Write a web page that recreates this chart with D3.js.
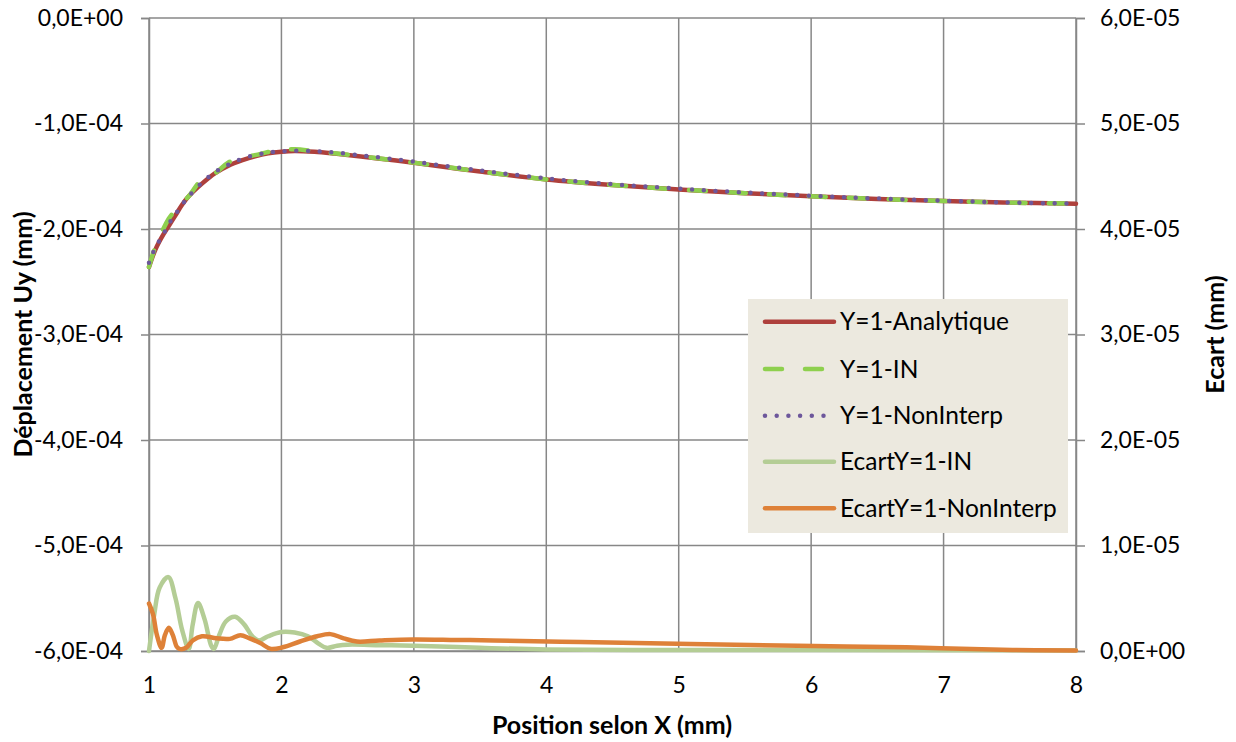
<!DOCTYPE html>
<html><head><meta charset="utf-8">
<script src="https://cdn.jsdelivr.net/npm/d3@7"></script>
<style>
body{margin:0;background:#fff;}
text{font-family:Lato,"Open Sans",sans-serif;fill:#000;}
</style></head>
<body>
<svg id="c" width="1236" height="742"></svg>
<script>
// ---- data ----
const xTicks = [1,2,3,4,5,6,7,8];
const yLeftTicks = [0,-1e-4,-2e-4,-3e-4,-4e-4,-5e-4,-6e-4];
const yLeftLabels = ["0,0E+00","-1,0E-04","-2,0E-04","-3,0E-04","-4,0E-04","-5,0E-04","-6,0E-04"];
const yRightTicks = [6e-5,5e-5,4e-5,3e-5,2e-5,1e-5,0];
const yRightLabels = ["6,0E-05","5,0E-05","4,0E-05","3,0E-05","2,0E-05","1,0E-05","0,0E+00"];

const seriesNames = ["Y=1-Analytique","Y=1-IN","Y=1-NonInterp","EcartY=1-IN","EcartY=1-NonInterp"];

const xMain = [1,1.05,1.1,1.15,1.2,1.25,1.3,1.4,1.5,1.6,1.7,1.8,1.9,2.0,2.1,2.25,2.4,2.6,2.8,3.0,3.25,3.5,4.0,4.5,5.0,5.5,6.0,6.5,7.0,7.5,8.0];
const yAnalytique = [-2.36,-2.19,-2.07,-1.97,-1.87,-1.77,-1.69,-1.57,-1.47,-1.40,-1.35,-1.31,-1.282,-1.267,-1.26,-1.268,-1.285,-1.312,-1.342,-1.372,-1.415,-1.455,-1.53,-1.583,-1.625,-1.66,-1.69,-1.715,-1.735,-1.75,-1.76].map(v=>v*1e-4);
const yIN = [-2.36,-2.16,-2.02,-1.90,-1.82,-1.75,-1.69,-1.53,-1.47,-1.37,-1.32,-1.30,-1.27,-1.25,-1.245,-1.262,-1.283,-1.311,-1.341,-1.371,-1.414,-1.455,-1.53,-1.583,-1.625,-1.66,-1.69,-1.715,-1.735,-1.75,-1.76].map(v=>v*1e-4);
const yNonInterp = [-2.32,-2.17,-2.07,-1.95,-1.86,-1.77,-1.69,-1.56,-1.46,-1.39,-1.335,-1.30,-1.275,-1.264,-1.258,-1.262,-1.274,-1.302,-1.331,-1.361,-1.405,-1.445,-1.521,-1.576,-1.618,-1.654,-1.685,-1.711,-1.732,-1.749,-1.76].map(v=>v*1e-4);

const xEcartIN = [1.0,1.04,1.08,1.146,1.2,1.25,1.30,1.33,1.37,1.42,1.47,1.49,1.53,1.58,1.65,1.72,1.78,1.83,1.9,2.0,2.1,2.2,2.28,2.34,2.42,2.5,2.75,3.0,3.5,4.0,5.0,6.0,7.0,8.0];
const yEcartIN = [0.0,0.35,0.6,0.70,0.5,0.2,0.02,0.25,0.455,0.3,0.05,0.02,0.15,0.28,0.325,0.25,0.14,0.10,0.14,0.18,0.175,0.14,0.07,0.03,0.05,0.06,0.055,0.05,0.03,0.015,0.01,0.01,0.008,0.005].map(v=>v*1e-5);

const xEcartNI = [1.0,1.03,1.06,1.095,1.12,1.15,1.18,1.21,1.23,1.28,1.33,1.40,1.51,1.61,1.69,1.76,1.84,1.92,2.01,2.14,2.27,2.37,2.47,2.57,2.74,2.99,3.32,3.6,4.26,5.09,5.9,6.72,7.52,8.0];
const yEcartNI = [0.45,0.35,0.15,0.03,0.15,0.22,0.15,0.04,0.02,0.03,0.10,0.14,0.12,0.115,0.15,0.12,0.075,0.02,0.035,0.09,0.14,0.16,0.12,0.09,0.10,0.11,0.105,0.10,0.085,0.066,0.05,0.035,0.01,0.005].map(v=>v*1e-5);

// ---- chart ----
const svg = d3.select("#c");
const L=149, R=1076, T=18, B=651;
const x = d3.scaleLinear().domain([1,8]).range([L,R]);
const yL = d3.scaleLinear().domain([-6e-4,0]).range([B,T]);
const yR = d3.scaleLinear().domain([0,6e-5]).range([B,T]);
const grid = "#878787";

// grid
svg.append("g").selectAll("line").data(xTicks).join("line")
  .attr("x1",d=>x(d)).attr("x2",d=>x(d)).attr("y1",T).attr("y2",B)
  .attr("stroke",grid).attr("stroke-width",1.5);
svg.append("g").selectAll("line").data(yLeftTicks).join("line")
  .attr("x1",L).attr("x2",R).attr("y1",d=>yL(d)).attr("y2",d=>yL(d))
  .attr("stroke",grid).attr("stroke-width",1.5);

// axes
const axL = svg.append("g").attr("transform",`translate(${L},0)`)
  .call(d3.axisLeft(yL).tickValues(yLeftTicks).tickFormat((d,i)=>yLeftLabels[i]).tickSize(8).tickPadding(18));
const axR = svg.append("g").attr("transform",`translate(${R},0)`)
  .call(d3.axisRight(yR).tickValues(yRightTicks).tickFormat((d,i)=>yRightLabels[i]).tickSize(9).tickPadding(15));
const axB = svg.append("g").attr("transform",`translate(0,${B})`)
  .call(d3.axisBottom(x).tickValues(xTicks).tickFormat(d3.format("d")).tickSize(0).tickPadding(26));
[axL,axR,axB].forEach(a=>{
  a.select(".domain").attr("stroke",grid).attr("stroke-width",1.5);
  a.selectAll(".tick line").attr("stroke",grid).attr("stroke-width",1.5);
  a.selectAll(".tick text").style("font-size","23px").style("font-family","Lato,sans-serif").attr("fill","#000");
});

// titles
svg.append("text").attr("x",612).attr("y",734).attr("text-anchor","middle")
  .style("font-size","25px").style("font-weight","bold").text("Position selon X (mm)");
svg.append("text").attr("transform",`translate(32,${(T+B)/2}) rotate(-90)`).attr("text-anchor","middle")
  .style("font-size","25px").style("font-weight","bold").text("Déplacement Uy (mm)");
svg.append("text").attr("transform",`translate(1224,${(T+B)/2}) rotate(-90)`).attr("text-anchor","middle")
  .style("font-size","25px").style("font-weight","bold").text("Ecart (mm)");

// lines
const styles = [
  {color:"#AE403C", dash:null, w:4.5},
  {color:"#8ED04E", dash:"17 23", w:4.5},
  {color:"#6D579B", dash:"0 11.7", w:4.5},
  {color:"#B4CD95", dash:null, w:4.5},
  {color:"#DE8138", dash:null, w:4.5}
];
const curve = d3.curveCatmullRom.alpha(0.5);
const lineL = d3.line().x(d=>x(d[0])).y(d=>yL(d[1])).curve(curve);
const lineR = d3.line().x(d=>x(d[0])).y(d=>yR(d[1])).curve(curve);
const data = [
  {pts:d3.zip(xMain,yAnalytique), line:lineL},
  {pts:d3.zip(xMain,yIN), line:lineL},
  {pts:d3.zip(xMain,yNonInterp), line:lineL},
  {pts:d3.zip(xEcartIN,yEcartIN), line:lineR},
  {pts:d3.zip(xEcartNI,yEcartNI), line:lineR}
];
data.forEach((s,i)=>{
  const p = svg.append("path").attr("d",s.line(s.pts)).attr("fill","none")
    .attr("stroke",styles[i].color).attr("stroke-width",styles[i].w)
    .attr("stroke-linecap","round").attr("stroke-linejoin","round");
  if(styles[i].dash) p.attr("stroke-dasharray",styles[i].dash);
});

// legend
const lg = svg.append("g");
lg.append("rect").attr("x",748).attr("y",299).attr("width",320).attr("height",234).attr("fill","#ECE9DF");
const rowY = [321.7,369,415.7,461.7,508.3];
seriesNames.forEach((n,i)=>{
  const l = lg.append("line").attr("x1",765).attr("x2",834).attr("y1",rowY[i]).attr("y2",rowY[i])
    .attr("stroke",styles[i].color).attr("stroke-width",styles[i].w).attr("stroke-linecap","round");
  if(styles[i].dash) l.attr("stroke-dasharray",styles[i].dash);
  lg.append("text").attr("x",840).attr("y",rowY[i]).attr("dy","0.35em").style("font-size","24.5px").text(n);
});
</script>
</body></html>
